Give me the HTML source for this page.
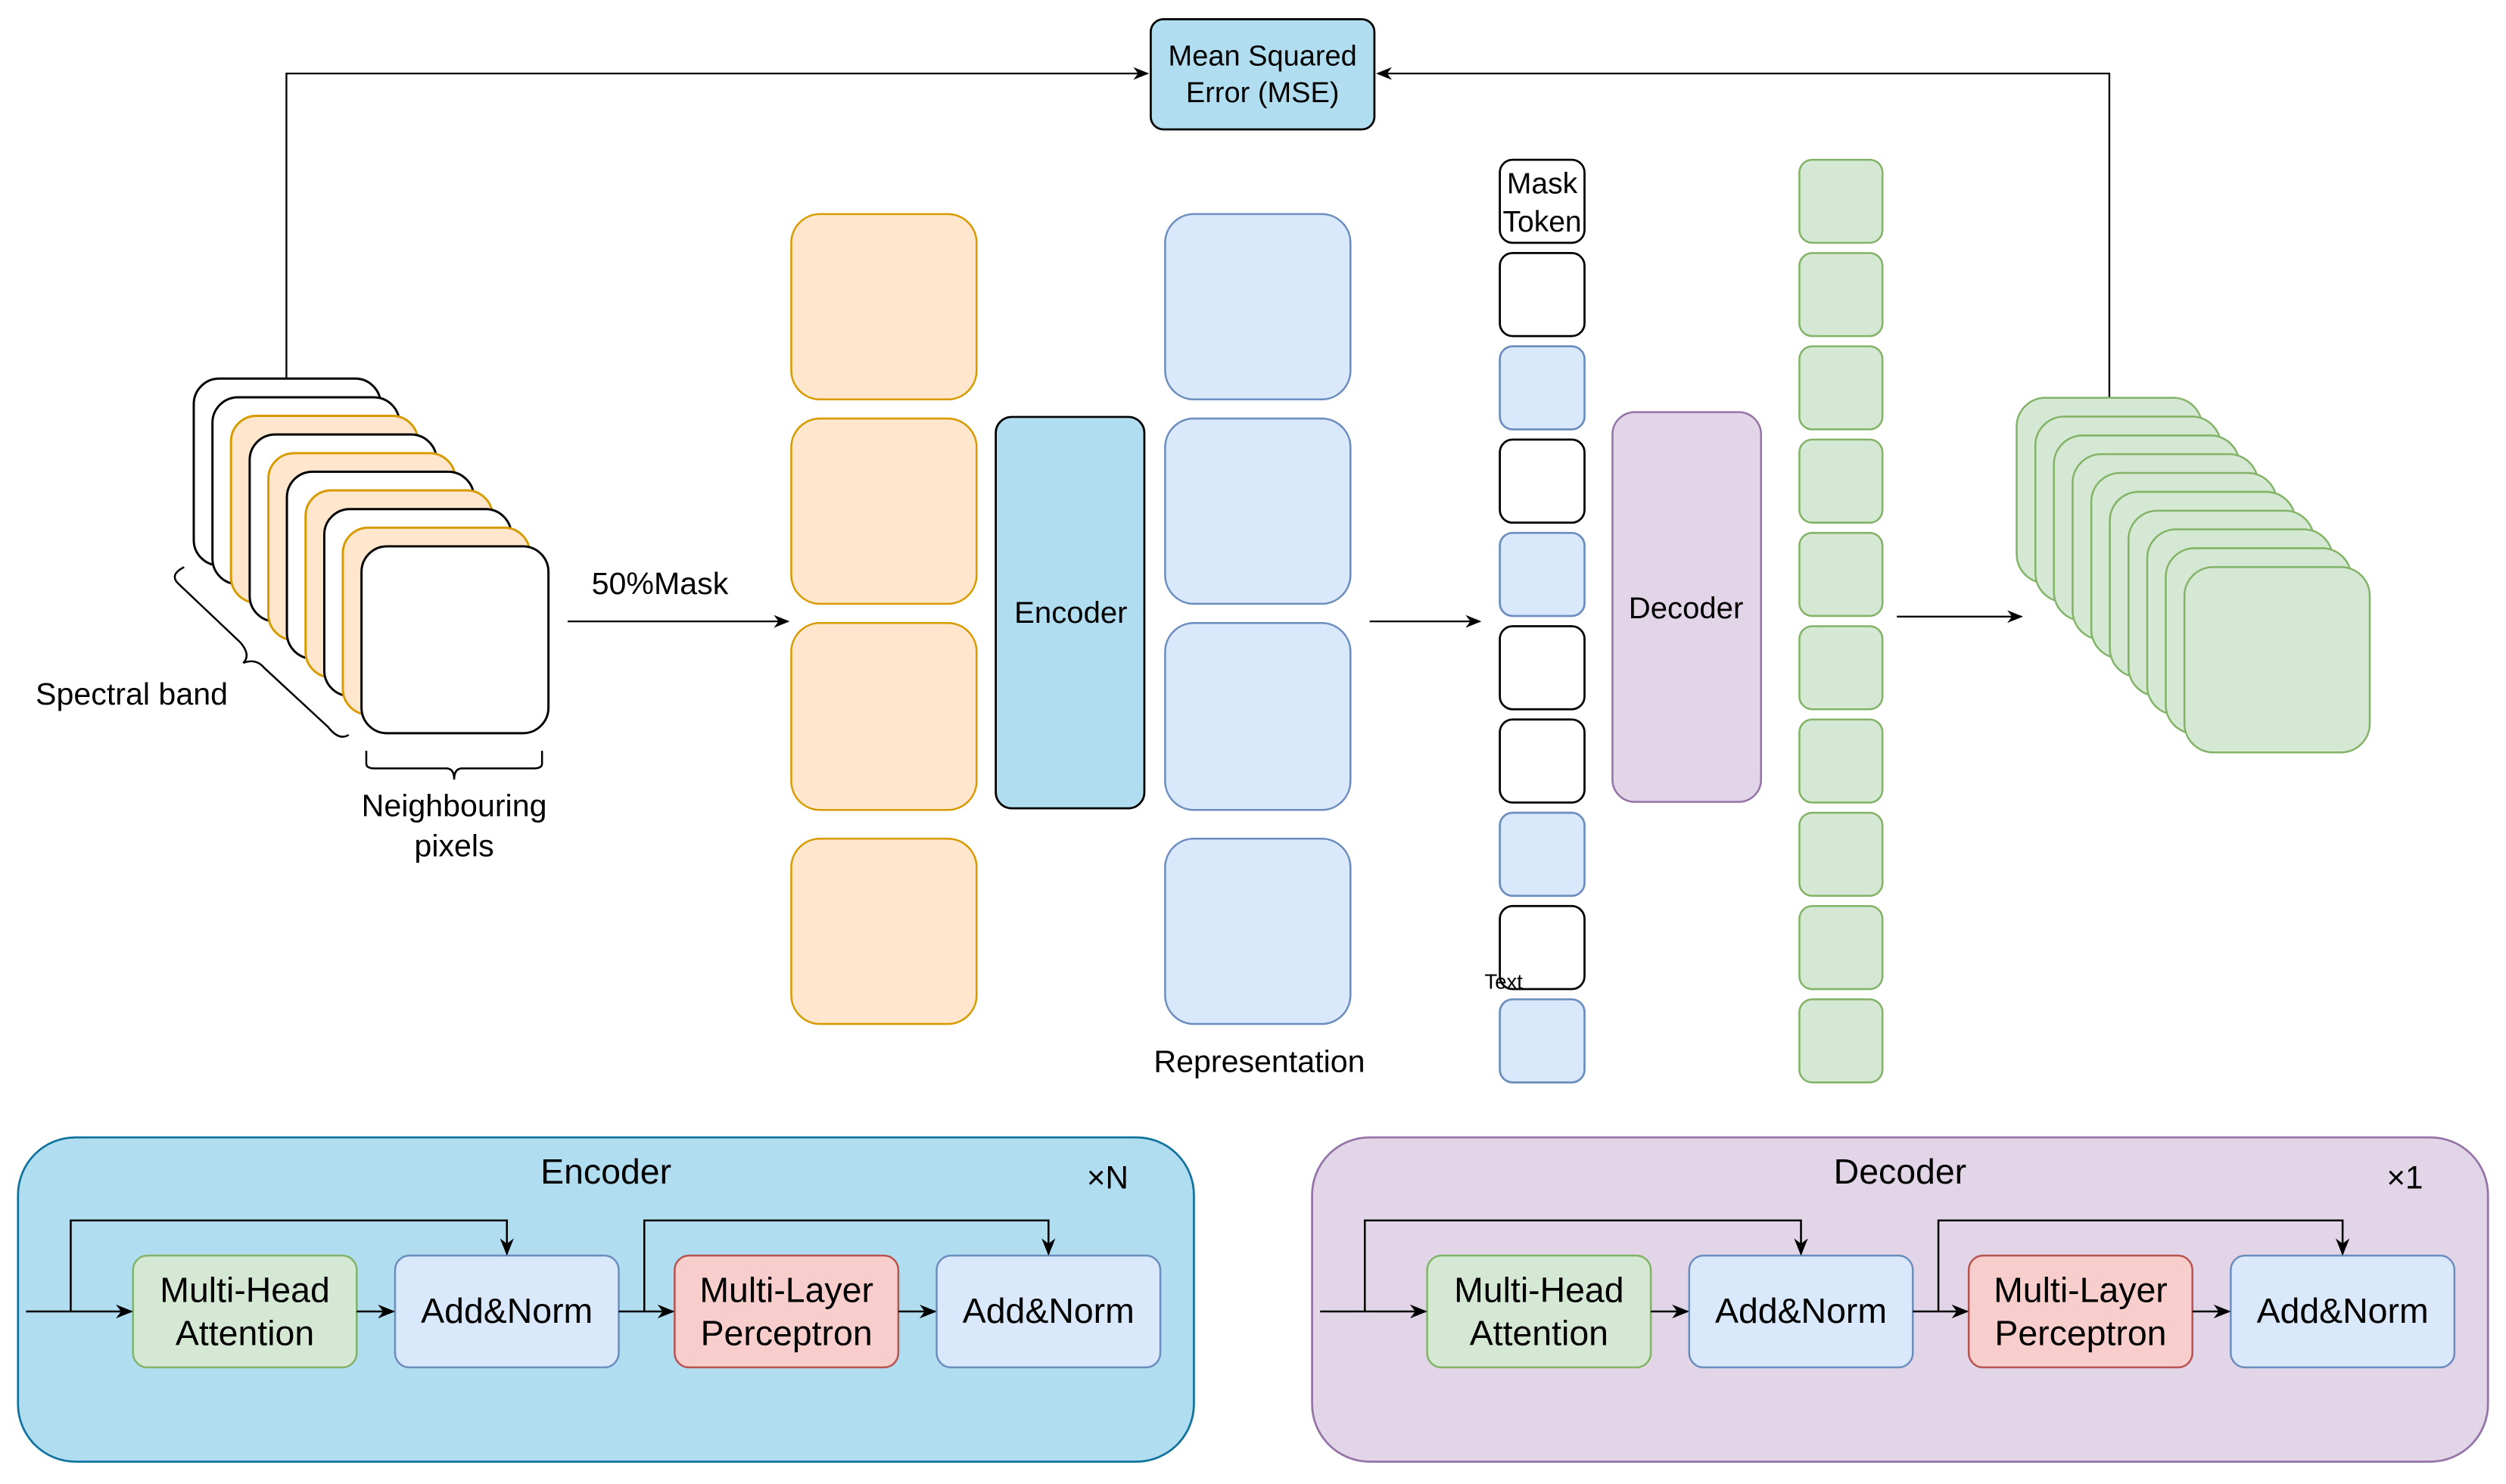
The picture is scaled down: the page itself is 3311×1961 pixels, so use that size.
<!DOCTYPE html>
<html><head><meta charset="utf-8"><style>html,body{margin:0;padding:0;background:#fff}svg{display:block}</style></head><body>
<svg xmlns="http://www.w3.org/2000/svg" width="3311" height="1961" viewBox="0 0 1568 929" font-family="Liberation Sans, sans-serif">
<defs><marker id="a" viewBox="0 0 10 10" refX="9" refY="5" markerWidth="9" markerHeight="9" orient="auto"><path d="M0,1 L10,5 L0,9 L3,5 z" fill="#000"/></marker></defs>
<rect width="1568" height="929" fill="#fff"/>
<rect x="720" y="12" width="140" height="69" rx="8" fill="#b1ddf0" stroke="#000" stroke-width="1.3"/>
<text x="790" y="41" font-size="18" text-anchor="middle">Mean Squared</text>
<text x="790" y="64" font-size="18" text-anchor="middle">Error (MSE)</text>
<polyline points="179,237 179,46 718,46" fill="none" stroke="#000" stroke-width="1.1" marker-end="url(#a)"/>
<polyline points="1320,249 1320,46 862,46" fill="none" stroke="#000" stroke-width="1.1" marker-end="url(#a)"/>
<g stroke-width="1.4">
<rect x="121" y="237" width="117" height="117" rx="16" fill="#fff" stroke="#000"/>
<rect x="132.7" y="248.7" width="117" height="117" rx="16" fill="#fff" stroke="#000"/>
<rect x="144.3" y="260.3" width="117" height="117" rx="16" fill="#ffe6cc" stroke="#d79b00"/>
<rect x="156" y="272" width="117" height="117" rx="16" fill="#fff" stroke="#000"/>
<rect x="167.7" y="283.7" width="117" height="117" rx="16" fill="#ffe6cc" stroke="#d79b00"/>
<rect x="179.3" y="295.3" width="117" height="117" rx="16" fill="#fff" stroke="#000"/>
<rect x="191" y="307" width="117" height="117" rx="16" fill="#ffe6cc" stroke="#d79b00"/>
<rect x="202.7" y="318.7" width="117" height="117" rx="16" fill="#fff" stroke="#000"/>
<rect x="214.3" y="330.3" width="117" height="117" rx="16" fill="#ffe6cc" stroke="#d79b00"/>
<rect x="226" y="342" width="117" height="117" rx="16" fill="#fff" stroke="#000"/>
</g>
<path d="M115,355 Q105,360 112,366 L150,402 Q157,410 152,415 Q160,412 165,418 L205,455 Q212,464 218,460" fill="none" stroke="#000" stroke-width="1.2"/>
<text x="22" y="441" font-size="19.5">Spectral band</text>
<path d="M229,470 L229,478 Q229,481 234,481 L279,481 Q284,481 284,488 Q284,481 289,481 L334,481 Q339,481 339,478 L339,470" fill="none" stroke="#000" stroke-width="1.2"/>
<text x="284" y="511" font-size="19.5" text-anchor="middle">Neighbouring</text>
<text x="284" y="536" font-size="19.5" text-anchor="middle">pixels</text>
<line x1="355" y1="389" x2="493" y2="389" stroke="#000" stroke-width="1.1" marker-end="url(#a)"/>
<text x="370" y="372" font-size="19.5">50%Mask</text>
<g fill="#ffe6cc" stroke="#d79b00" stroke-width="1.2">
<rect x="495" y="134" width="116" height="116" rx="18"/>
<rect x="495" y="262" width="116" height="116" rx="18"/>
<rect x="495" y="390" width="116" height="117" rx="18"/>
<rect x="495" y="525" width="116" height="116" rx="18"/>
</g>
<rect x="623" y="261" width="93" height="245" rx="10" fill="#b1ddf0" stroke="#000" stroke-width="1.3"/>
<text x="670" y="390" font-size="19" text-anchor="middle">Encoder</text>
<g fill="#dae8fc" stroke="#6c8ebf" stroke-width="1.2">
<rect x="729" y="134" width="116" height="116" rx="18"/>
<rect x="729" y="262" width="116" height="116" rx="18"/>
<rect x="729" y="390" width="116" height="117" rx="18"/>
<rect x="729" y="525" width="116" height="116" rx="18"/>
</g>
<text x="788" y="671" font-size="19.5" text-anchor="middle">Representation</text>
<line x1="857" y1="389" x2="926" y2="389" stroke="#000" stroke-width="1.1" marker-end="url(#a)"/>
<g stroke-width="1.3">
<rect x="938.5" y="100" width="53" height="52" rx="8" fill="#fff" stroke="#000"/>
<rect x="938.5" y="158.4" width="53" height="52" rx="8" fill="#fff" stroke="#000"/>
<rect x="938.5" y="216.8" width="53" height="52" rx="8" fill="#dae8fc" stroke="#6c8ebf"/>
<rect x="938.5" y="275.2" width="53" height="52" rx="8" fill="#fff" stroke="#000"/>
<rect x="938.5" y="333.6" width="53" height="52" rx="8" fill="#dae8fc" stroke="#6c8ebf"/>
<rect x="938.5" y="392" width="53" height="52" rx="8" fill="#fff" stroke="#000"/>
<rect x="938.5" y="450.4" width="53" height="52" rx="8" fill="#fff" stroke="#000"/>
<rect x="938.5" y="508.8" width="53" height="52" rx="8" fill="#dae8fc" stroke="#6c8ebf"/>
<rect x="938.5" y="567.2" width="53" height="52" rx="8" fill="#fff" stroke="#000"/>
<rect x="938.5" y="625.6" width="53" height="52" rx="8" fill="#dae8fc" stroke="#6c8ebf"/>
</g>
<text x="965" y="121" font-size="18.5" text-anchor="middle">Mask</text>
<text x="965" y="145" font-size="18.5" text-anchor="middle">Token</text>
<text x="929" y="619" font-size="13">Text</text>
<rect x="1009" y="258" width="93" height="244" rx="14" fill="#e1d5e7" stroke="#9673a6" stroke-width="1.2"/>
<text x="1055" y="387" font-size="19" text-anchor="middle">Decoder</text>
<g fill="#d5e8d4" stroke="#82b366" stroke-width="1.2">
<rect x="1126" y="100" width="52" height="52" rx="8"/>
<rect x="1126" y="158.4" width="52" height="52" rx="8"/>
<rect x="1126" y="216.8" width="52" height="52" rx="8"/>
<rect x="1126" y="275.2" width="52" height="52" rx="8"/>
<rect x="1126" y="333.6" width="52" height="52" rx="8"/>
<rect x="1126" y="392" width="52" height="52" rx="8"/>
<rect x="1126" y="450.4" width="52" height="52" rx="8"/>
<rect x="1126" y="508.8" width="52" height="52" rx="8"/>
<rect x="1126" y="567.2" width="52" height="52" rx="8"/>
<rect x="1126" y="625.6" width="52" height="52" rx="8"/>
</g>
<line x1="1187" y1="386" x2="1265" y2="386" stroke="#000" stroke-width="1.1" marker-end="url(#a)"/>
<g fill="#d5e8d4" stroke="#82b366" stroke-width="1.2">
<rect x="1262" y="249" width="116" height="116" rx="18"/>
<rect x="1273.7" y="260.8" width="116" height="116" rx="18"/>
<rect x="1285.3" y="272.6" width="116" height="116" rx="18"/>
<rect x="1297" y="284.3" width="116" height="116" rx="18"/>
<rect x="1308.7" y="296.1" width="116" height="116" rx="18"/>
<rect x="1320.3" y="307.9" width="116" height="116" rx="18"/>
<rect x="1332" y="319.7" width="116" height="116" rx="18"/>
<rect x="1343.7" y="331.4" width="116" height="116" rx="18"/>
<rect x="1355.3" y="343.2" width="116" height="116" rx="18"/>
<rect x="1367" y="355" width="116" height="116" rx="18"/>
</g>
<g>
<rect x="11" y="712" width="736" height="203" rx="36" fill="#b1ddf0" stroke="#10739e" stroke-width="1.3"/>
<text x="379" y="741" font-size="22" text-anchor="middle">Encoder</text>
<rect x="83" y="786" width="140" height="70" rx="9" fill="#d5e8d4" stroke="#82b366" stroke-width="1.2"/>
<rect x="247" y="786" width="140" height="70" rx="9" fill="#dae8fc" stroke="#6c8ebf" stroke-width="1.2"/>
<rect x="422" y="786" width="140" height="70" rx="9" fill="#f8cecc" stroke="#b85450" stroke-width="1.2"/>
<rect x="586" y="786" width="140" height="70" rx="9" fill="#dae8fc" stroke="#6c8ebf" stroke-width="1.2"/>
<text x="153" y="815" font-size="22" text-anchor="middle">Multi-Head</text>
<text x="153" y="842" font-size="22" text-anchor="middle">Attention</text>
<text x="317" y="828" font-size="22" text-anchor="middle">Add&amp;Norm</text>
<text x="492" y="815" font-size="22" text-anchor="middle">Multi-Layer</text>
<text x="492" y="842" font-size="22" text-anchor="middle">Perceptron</text>
<text x="656" y="828" font-size="22" text-anchor="middle">Add&amp;Norm</text>
<g fill="none" stroke="#000" stroke-width="1.2">
<line x1="16" y1="821" x2="82" y2="821" marker-end="url(#a)"/>
<polyline points="44,821 44,764 317,764 317,785" marker-end="url(#a)"/>
<line x1="223" y1="821" x2="246" y2="821" marker-end="url(#a)"/>
<line x1="387" y1="821" x2="421" y2="821" marker-end="url(#a)"/>
<polyline points="403,821 403,764 656,764 656,785" marker-end="url(#a)"/>
<line x1="562" y1="821" x2="585" y2="821" marker-end="url(#a)"/>
</g>
</g>
<text x="693" y="744" font-size="20" text-anchor="middle">×N</text>
<g transform="translate(810,0)">
<rect x="11" y="712" width="736" height="203" rx="36" fill="#e1d5e7" stroke="#9673a6" stroke-width="1.3"/>
<text x="379" y="741" font-size="22" text-anchor="middle">Decoder</text>
<rect x="83" y="786" width="140" height="70" rx="9" fill="#d5e8d4" stroke="#82b366" stroke-width="1.2"/>
<rect x="247" y="786" width="140" height="70" rx="9" fill="#dae8fc" stroke="#6c8ebf" stroke-width="1.2"/>
<rect x="422" y="786" width="140" height="70" rx="9" fill="#f8cecc" stroke="#b85450" stroke-width="1.2"/>
<rect x="586" y="786" width="140" height="70" rx="9" fill="#dae8fc" stroke="#6c8ebf" stroke-width="1.2"/>
<text x="153" y="815" font-size="22" text-anchor="middle">Multi-Head</text>
<text x="153" y="842" font-size="22" text-anchor="middle">Attention</text>
<text x="317" y="828" font-size="22" text-anchor="middle">Add&amp;Norm</text>
<text x="492" y="815" font-size="22" text-anchor="middle">Multi-Layer</text>
<text x="492" y="842" font-size="22" text-anchor="middle">Perceptron</text>
<text x="656" y="828" font-size="22" text-anchor="middle">Add&amp;Norm</text>
<g fill="none" stroke="#000" stroke-width="1.2">
<line x1="16" y1="821" x2="82" y2="821" marker-end="url(#a)"/>
<polyline points="44,821 44,764 317,764 317,785" marker-end="url(#a)"/>
<line x1="223" y1="821" x2="246" y2="821" marker-end="url(#a)"/>
<line x1="387" y1="821" x2="421" y2="821" marker-end="url(#a)"/>
<polyline points="403,821 403,764 656,764 656,785" marker-end="url(#a)"/>
<line x1="562" y1="821" x2="585" y2="821" marker-end="url(#a)"/>
</g>
<text x="695" y="744" font-size="20" text-anchor="middle">×1</text>
</g>
</svg>
</body></html>
